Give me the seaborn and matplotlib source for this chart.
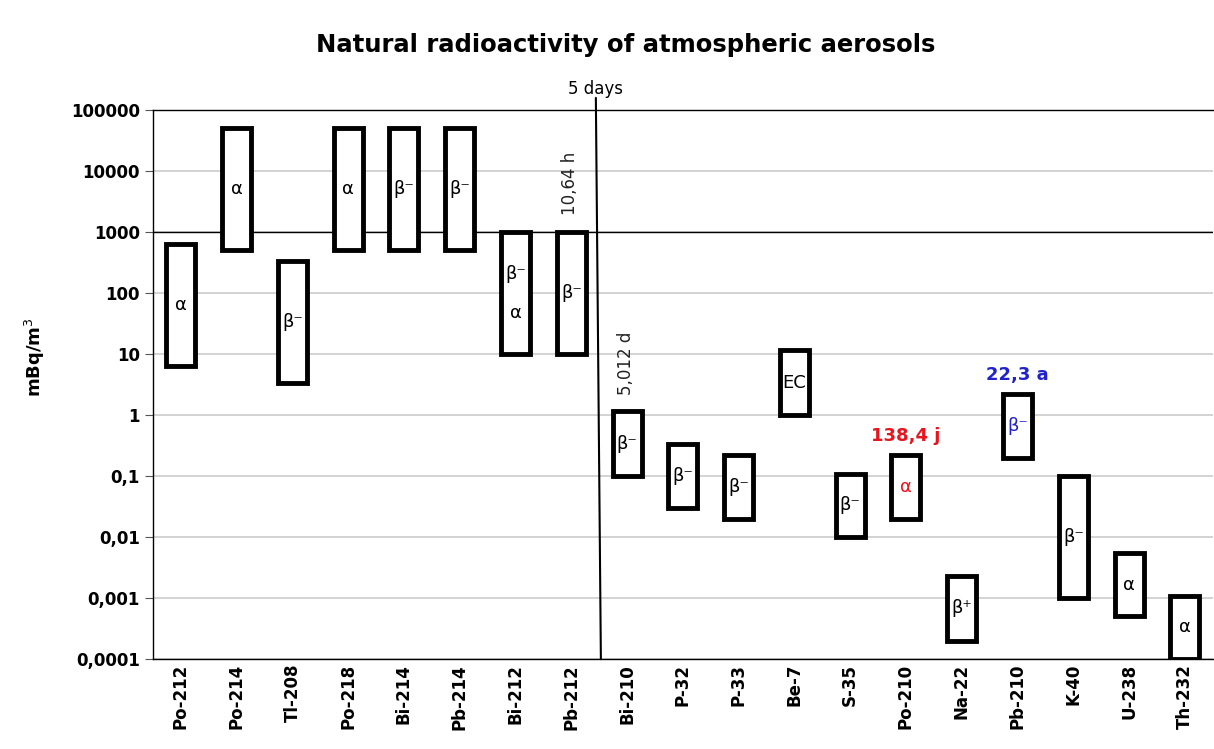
import numpy as np
import pandas as pd
import matplotlib.pyplot as plt
import seaborn as sns

# activity ranges of natural radionuclides in air (mBq/m3)
nuclides = ['Po-212', 'Po-214', 'Tl-208', 'Po-218', 'Bi-214', 'Pb-214', 'Bi-212', 'Pb-212',
            'Bi-210', 'P-32', 'P-33', 'Be-7', 'S-35', 'Po-210', 'Na-22', 'Pb-210', 'K-40',
            'U-238', 'Th-232']
low = [6.5, 500, 3.4, 500, 500, 500, 10, 10,
       0.1, 0.03, 0.02, 1, 0.01, 0.02, 0.0002, 0.2, 0.001,
       0.0005, 0.0001]
high = [650, 50000, 330, 50000, 50000, 50000, 1000, 1000,
        1.15, 0.33, 0.22, 11.5, 0.11, 0.22, 0.0023, 2.2, 0.1,
        0.0055, 0.0011]
decay = ['α', 'α', 'β⁻', 'α', 'β⁻', 'β⁻', 'β⁻\n\nα', 'β⁻',
         'β⁻', 'β⁻', 'β⁻', 'EC', 'β⁻', 'α', 'β⁺', 'β⁻', 'β⁻',
         'α', 'α']
decay_colors = ['black'] * 13 + ['#e8141e', 'black', '#2222cc', 'black', 'black', 'black']

# half-life notes
hl_nuclide = ['Pb-212', 'Bi-210', 'Po-210', 'Pb-210']
hl_text = ['10,64 h', '5,012 d', '138,4 j', '22,3 a']
hl_color = ['#222222', '#222222', '#e8141e', '#2222cc']

ytick_vals = [1e-4, 1e-3, 1e-2, 1e-1, 1, 10, 100, 1000, 10000, 100000]
ytick_labels = ['0,0001', '0,001', '0,01', '0,1', '1', '10', '100', '1000', '10000', '100000']

df = pd.DataFrame({'nuclide': nuclides, 'low': low, 'high': high})
df['span'] = df['high'] - df['low']

sns.set_style('white')
plt.rcParams.update({'text.color': 'black', 'xtick.color': 'black', 'ytick.color': 'black',
                     'axes.labelcolor': 'black'})
fig, ax = plt.subplots(figsize=(12.14, 7.49), dpi=100)
fig.subplots_adjust(left=0.126, right=0.999, bottom=0.12, top=0.853)
ax.set_yscale('log')

sns.barplot(data=df, x='nuclide', y='span', bottom=df['low'].values, width=0.52,
            color='white', saturation=1, edgecolor='black', linewidth=3.5, ax=ax, zorder=3)

ax.set_xlim(-0.5, len(nuclides) - 0.5)
ax.set_ylim(1e-4, 1e5)
ax.set_yticks(ytick_vals)
ax.set_yticklabels(ytick_labels, fontweight='bold', fontsize=12)
ax.minorticks_off()
ax.tick_params(axis='y', length=6, color='#555555', left=True)
ax.tick_params(axis='x', length=0, labelrotation=90)
for lab in ax.get_xticklabels():
    lab.set_fontweight('bold')
    lab.set_fontsize(12)
ax.set_xlabel('')
ax.set_ylabel('')

ax.yaxis.grid(True, color='#cccccc', lw=1.2)
ax.set_axisbelow(True)
ax.axhline(1000, color='black', lw=1, zorder=2)
for side in ['left', 'bottom', 'top']:
    ax.spines[side].set_color('black')
    ax.spines[side].set_linewidth(1)
ax.spines['right'].set_visible(False)

# decay mode inside each box
for i, (lo, hi) in enumerate(zip(low, high)):
    ax.text(i, np.sqrt(lo * hi), decay[i], ha='center', va='center', fontsize=13,
            color=decay_colors[i], zorder=4, linespacing=1.1)

# half-life notes above boxes
for name, txt, col in zip(hl_nuclide, hl_text, hl_color):
    i = nuclides.index(name)
    if txt.endswith('h') or txt.endswith('d'):
        ax.annotate(txt, (i, high[i]), xytext=(-1, 12), textcoords='offset points',
                    rotation=90, ha='center', va='bottom', fontsize=12, color=col)
    else:
        ax.annotate(txt, (i, high[i]), xytext=(0, 14), textcoords='offset points',
                    ha='center', va='center', fontsize=13, fontweight='bold', color=col)

# separation at 5 days
ax.plot([7.44, 7.53], [10 ** 5.2, 1e-4], color='black', lw=1.5, clip_on=False, zorder=5)
ax.text(7.44, 10 ** 5.2, '5 days', ha='center', va='bottom', fontsize=12)

fig.text(626 / 1214, 1 - 45 / 749, 'Natural radioactivity of atmospheric aerosols',
         ha='center', va='center', fontsize=17.5, fontweight='bold')
fig.text(35 / 1214, 1 - 357 / 749, 'mBq/m$^3$', rotation=90, ha='center', va='center',
         fontsize=13, fontweight='bold')

fig.savefig('out.png', dpi=100, facecolor='white')
